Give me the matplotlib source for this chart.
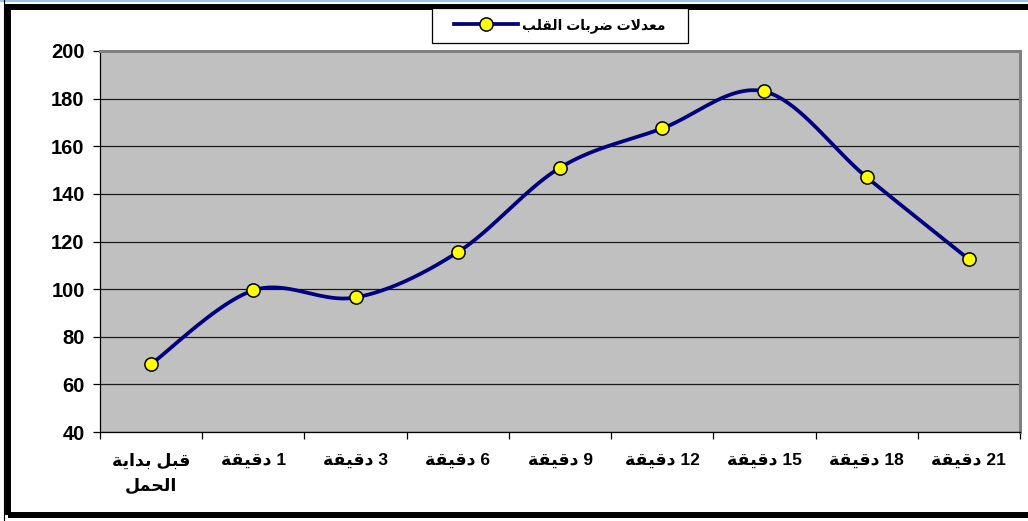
import numpy as np
import matplotlib
matplotlib.use("Agg")
import matplotlib.pyplot as plt
from matplotlib.lines import Line2D
from matplotlib.patches import Rectangle

# ---------------- data ----------------
categories = ["قبل بداية\nالحمل", "1 دقيقة", "3 دقيقة", "6 دقيقة", "9 دقيقة",
              "12 دقيقة", "15 دقيقة", "18 دقيقة", "21 دقيقة"]
heart_rate = [68.5, 99.5, 96.5, 115.5, 151, 167.5, 183, 147, 112.5]
series_name = "معدلات ضربات القلب"
y_ticks = [40, 60, 80, 100, 120, 140, 160, 180, 200]

# ------------- simple Arabic shaping (presentation forms, visual order) -------------
FORMS = {  # isolated, final, initial, medial
    'ا': ('\uFE8D', '\uFE8E', None, None),
    'ب': ('\uFE8F', '\uFE90', '\uFE91', '\uFE92'),
    'ة': ('\uFE93', '\uFE94', None, None),
    'ت': ('\uFE95', '\uFE96', '\uFE97', '\uFE98'),
    'ح': ('\uFEA1', '\uFEA2', '\uFEA3', '\uFEA4'),
    'د': ('\uFEA9', '\uFEAA', None, None),
    'ر': ('\uFEAD', '\uFEAE', None, None),
    'ض': ('\uFEBD', '\uFEBE', '\uFEBF', '\uFEC0'),
    'ع': ('\uFEC9', '\uFECA', '\uFECB', '\uFECC'),
    'ق': ('\uFED5', '\uFED6', '\uFED7', '\uFED8'),
    'ل': ('\uFEDD', '\uFEDE', '\uFEDF', '\uFEE0'),
    'م': ('\uFEE1', '\uFEE2', '\uFEE3', '\uFEE4'),
    'ي': ('\uFEF1', '\uFEF2', '\uFEF3', '\uFEF4'),
}


def shape_line(s):
    chars = list(s)
    out = []
    i = 0
    n = len(chars)

    def dual(c):
        return c in FORMS and FORMS[c][2] is not None

    def arab(c):
        return c in FORMS

    while i < n:
        c = chars[i]
        if not arab(c):
            out.append(c)
            i += 1
            continue
        prev = chars[i - 1] if i > 0 else ''
        join_prev = dual(prev)
        if c == 'ل' and i + 1 < n and chars[i + 1] == 'ا':
            out.append('\uFEFC' if join_prev else '\uFEFB')
            i += 2
            continue
        nxt = chars[i + 1] if i + 1 < n else ''
        join_next = dual(c) and arab(nxt)
        iso, fin, ini, med = FORMS[c]
        if join_prev and join_next:
            out.append(med)
        elif join_prev:
            out.append(fin)
        elif join_next:
            out.append(ini)
        else:
            out.append(iso)
        i += 1
    tokens = []
    for ch in out:
        if ch.isdigit() and tokens and tokens[-1].isdigit():
            tokens[-1] += ch
        else:
            tokens.append(ch)
    return ''.join(reversed(tokens))


def shape(s):
    return '\n'.join(shape_line(l) for l in s.split('\n'))


# ---------------- figure ----------------
W, H = 1028, 521
fig = plt.figure(figsize=(W / 100, H / 100), dpi=100)
fig.patch.set_facecolor('white')


def fx(px):
    return px / W


def fy(py):
    return 1 - py / H


ax_l, ax_r, ax_t, ax_b = 100, 1020, 51, 432
ax = fig.add_axes([fx(ax_l), fy(ax_b), fx(ax_r - ax_l), (ax_b - ax_t) / H])
ax.set_facecolor('#C0C0C0')

x = np.arange(len(heart_rate))
y = np.array(heart_rate, dtype=float)

# Excel-like smoothed line (cubic Bezier, Catmull-Rom style control points)
xs_all, ys_all = [], []
P = np.column_stack([x, y])
for i in range(len(P) - 1):
    p0 = P[i - 1] if i > 0 else P[i]
    p1 = P[i]
    p2 = P[i + 1]
    p3 = P[i + 2] if i + 2 < len(P) else P[i + 1]
    c1 = p1 + (p2 - p0) / 6
    c2 = p2 - (p3 - p1) / 6
    t = np.linspace(0, 1, 40)[:, None]
    seg = ((1 - t) ** 3) * p1 + 3 * ((1 - t) ** 2) * t * c1 + 3 * (1 - t) * t ** 2 * c2 + t ** 3 * p2
    xs_all.append(seg[:, 0])
    ys_all.append(seg[:, 1])
xs_all = np.concatenate(xs_all)
ys_all = np.concatenate(ys_all)

ax.plot(xs_all, ys_all, color='#000080', lw=2.7, solid_capstyle='round', zorder=3)
ax.plot(x, y, linestyle='none', marker='o', markersize=9.5, markerfacecolor='#FFFF00',
        markeredgecolor='black', markeredgewidth=1.1, zorder=4)

ax.set_xlim(-0.5, len(heart_rate) - 0.5)
ax.set_ylim(y_ticks[0], y_ticks[-1])
ax.set_yticks(y_ticks)
ax.yaxis.grid(True, color='#1a1a1a', lw=0.9)
ax.set_axisbelow(True)

ax.set_xticks(x)
ax.set_xticklabels([shape(c) for c in categories])
ax.set_xticks(np.arange(-0.5, len(heart_rate), 1), minor=True)
ax.tick_params(axis='x', which='major', length=0, pad=15)
ax.tick_params(axis='x', which='minor', length=5, width=0.9, direction='out')
ax.tick_params(axis='y', length=5, width=0.9, direction='out', pad=6)

fam = ['Liberation Sans', 'DejaVu Sans']
for lab in ax.get_yticklabels():
    lab.set_fontfamily(fam)
    lab.set_fontweight('bold')
    lab.set_fontsize(14.5)
for lab in ax.get_xticklabels():
    lab.set_fontfamily(fam)
    lab.set_fontweight('bold')
    lab.set_fontsize(12.5)
    lab.set_linespacing(1.65)

for s in ('left', 'bottom'):
    ax.spines[s].set_color('black')
    ax.spines[s].set_linewidth(0.9)
for s in ('top', 'right'):
    ax.spines[s].set_color('#808080')
    ax.spines[s].set_linewidth(2.2)

# legend box (drawn separately to match the wide padding)
fig.add_artist(Rectangle((fx(432), fy(43)), fx(688 - 432), (43 - 8) / H,
                         transform=fig.transFigure, facecolor='white',
                         edgecolor='black', lw=0.9, zorder=5))
handle = Line2D([], [], color='#000080', lw=2.7, marker='o', markersize=9.5,
                markerfacecolor='#FFFF00', markeredgecolor='black', markeredgewidth=1.1)
leg = fig.legend([handle], [shape(series_name)], loc='center',
                 bbox_to_anchor=(fx(560), fy(25.5)), frameon=False,
                 handlelength=4.6, borderpad=0.3, handletextpad=0.3, borderaxespad=0.0,
                 prop={'family': fam, 'weight': 'bold', 'size': 10})
leg.set_zorder(6)

# outer frame
fig.add_artist(Line2D([0, 1], [fy(0.5), fy(0.5)], transform=fig.transFigure,
                      color='#9DC3E6', lw=1.5))
fig.add_artist(Line2D([fx(3.5), fx(3.5)], [fy(0), fy(521)], transform=fig.transFigure,
                      color='black', lw=0.8))
fig.add_artist(Rectangle((fx(8), fy(515)), fx(1040 - 8), (515 - 7) / H,
                         transform=fig.transFigure, fill=False, edgecolor='black',
                         lw=4.3, clip_on=False))

fig.savefig('out.png', dpi=100, facecolor='white')
